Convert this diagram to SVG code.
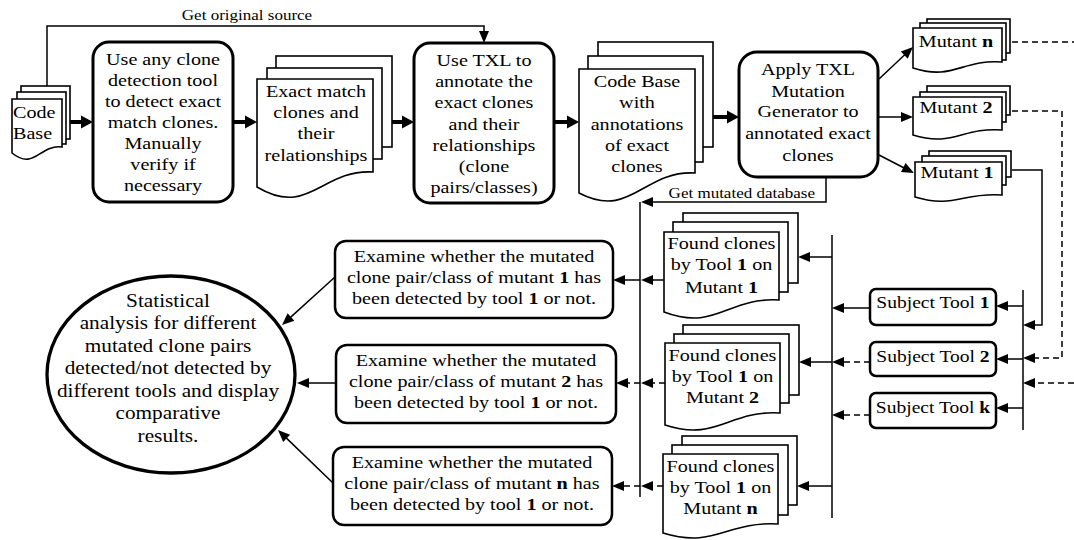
<svg xmlns="http://www.w3.org/2000/svg" width="1074" height="540" viewBox="0 0 1074 540">
<style>
.t{font-family:"Liberation Serif","Times New Roman",serif;font-size:17.5px;fill:#000;text-anchor:middle}
.s{font-size:14.8px}
.e{font-size:18.5px}
.st{font-size:17px}
.l{text-anchor:start}
.r{text-anchor:end}
.b{font-weight:bold}
.box{fill:#fff;stroke:#000;stroke-width:3}
.box2{fill:#fff;stroke:#000;stroke-width:2.5}
.doc{fill:#fff;stroke:#000;stroke-width:1.6}
.ln{fill:none;stroke:#000;stroke-width:1.5}
.dash{stroke-dasharray:6 4}
.thk{fill:none;stroke:#000;stroke-width:4}
</style>
<defs>
<marker id="ah" markerUnits="userSpaceOnUse" markerWidth="12" markerHeight="10" refX="1" refY="5" orient="auto" overflow="visible"><path d="M0,0 L12,5 L0,10 Z" fill="#000"/></marker>
<marker id="ahb" markerUnits="userSpaceOnUse" markerWidth="12" markerHeight="13" refX="0" refY="6.5" orient="auto" overflow="visible"><path d="M0,0 L12,6.5 L0,13 Z" fill="#000"/></marker>
</defs>
<rect width="1074" height="540" fill="#fff"/>

<g id="connectors">
<path class="thk" d="M70,122 H81" marker-end="url(#ahb)"/>
<path class="thk" d="M233,122 H245" marker-end="url(#ahb)"/>
<path class="thk" d="M392,122 H402" marker-end="url(#ahb)"/>
<path class="thk" d="M554,122 H567" marker-end="url(#ahb)"/>
<path class="thk" d="M713,117 H727" marker-end="url(#ahb)"/>
<path class="ln" d="M47,86 V26 H484 V32" marker-end="url(#ah)"/>
<path class="ln" d="M879,79 L905,54.5" marker-end="url(#ah)"/>
<path class="ln" d="M879,117 H902" marker-end="url(#ah)"/>
<path class="ln" d="M879,155 L904.2,168" marker-end="url(#ah)"/>
<path class="ln dash" d="M1012,42 H1074"/>
<path class="ln dash" d="M1012,111 H1062 V358 H1034" marker-end="url(#ah)"/>
<path class="ln" d="M1012,170 H1042 V325 H1034" marker-end="url(#ah)"/>
<path class="ln dash" d="M1074,383 H1034" marker-end="url(#ah)"/>
<path class="ln" d="M1023,290 V430"/>
<path class="ln" d="M1023,306 H1007" marker-end="url(#ah)"/>
<path class="ln" d="M1023,359 H1007" marker-end="url(#ah)"/>
<path class="ln" d="M1023,408 H1007" marker-end="url(#ah)"/>
<path class="ln" d="M870,308 H843" marker-end="url(#ah)"/>
<path class="ln dash" d="M870,362 H843" marker-end="url(#ah)"/>
<path class="ln dash" d="M870,415 H843" marker-end="url(#ah)"/>
<path class="ln" d="M832,235 V518"/>
<path class="ln" d="M832,257 H809" marker-end="url(#ah)"/>
<path class="ln" d="M832,362 H810" marker-end="url(#ah)"/>
<path class="ln" d="M832,486 H808" marker-end="url(#ah)"/>
<path class="ln" d="M826,177 V202 H652" marker-end="url(#ah)"/>
<path class="ln" d="M640,202 V497"/>
<path class="ln" d="M664,280 H652" marker-end="url(#ah)"/>
<path class="ln dash" d="M665,383 H652" marker-end="url(#ah)"/>
<path class="ln dash" d="M663,486 H652" marker-end="url(#ah)"/>
<path class="ln" d="M640,280 H624" marker-end="url(#ah)"/>
<path class="ln dash" d="M640,383 H627" marker-end="url(#ah)"/>
<path class="ln dash" d="M640,486 H623" marker-end="url(#ah)"/>
<path class="ln" d="M335,277 L290.2,317.6" marker-end="url(#ah)"/>
<path class="ln" d="M336,383 H308" marker-end="url(#ah)"/>
<path class="ln" d="M333,483 L285.9,437.6" marker-end="url(#ah)"/>
<text class="t s" transform="translate(247 0) scale(1.15 1)"><tspan x="0" y="20">Get original source</tspan></text>
<text class="t s r" transform="translate(815 0) scale(1.15 1)"><tspan x="0" y="198">Get mutated database</tspan></text>
</g>

<g id="code-base">
<rect class="doc" x="21" y="86" width="49" height="53"/>
<rect class="doc" x="17" y="92" width="49" height="52"/>
<path class="doc" d="M12,99 H62 V147 C39.5,144 34.5,171 12,153 Z"/>
<text class="t l" transform="translate(13 0) scale(1.15 1)"><tspan x="0" y="118">Code</tspan><tspan x="0" y="139">Base</tspan></text>
</g>

<g id="detect">
<rect class="box" x="93" y="42" width="140" height="160" rx="16"/>
<text class="t" transform="translate(163 0) scale(1.15 1)"><tspan x="0" y="65">Use any clone</tspan><tspan x="0" y="86">detection tool</tspan><tspan x="0" y="107">to detect exact</tspan><tspan x="0" y="128">match clones.</tspan><tspan x="0" y="149">Manually</tspan><tspan x="0" y="170">verify if</tspan><tspan x="0" y="191">necessary</tspan></text>
</g>

<g id="exact-clones">
<rect class="doc" x="276" y="56" width="116" height="91"/>
<rect class="doc" x="267" y="68" width="115" height="91"/>
<path class="doc" d="M257,79 H373 V172 C321,169 309,218 257,187 Z"/>
<text class="t" transform="translate(316 0) scale(1.15 1)"><tspan x="0" y="97">Exact match</tspan><tspan x="0" y="118">clones and</tspan><tspan x="0" y="139">their</tspan><tspan x="0" y="161">relationships</tspan></text>
</g>

<g id="annotate">
<rect class="box" x="414" y="43" width="140" height="160" rx="16"/>
<text class="t" transform="translate(484 0) scale(1.15 1)"><tspan x="0" y="66">Use TXL to</tspan><tspan x="0" y="87">annotate the</tspan><tspan x="0" y="108">exact clones</tspan><tspan x="0" y="130">and their</tspan><tspan x="0" y="151">relationships</tspan><tspan x="0" y="172">(clone</tspan><tspan x="0" y="193">pairs/classes)</tspan></text>
</g>

<g id="annotated-base">
<rect class="doc" x="598" y="42" width="115" height="105"/>
<rect class="doc" x="588" y="56" width="115" height="106"/>
<path class="doc" d="M579,69 H695 V173 C643,170 631,220 579,193 Z"/>
<text class="t" transform="translate(637 0) scale(1.15 1)"><tspan x="0" y="87">Code Base</tspan><tspan x="0" y="108">with</tspan><tspan x="0" y="130">annotations</tspan><tspan x="0" y="151">of exact</tspan><tspan x="0" y="172">clones</tspan></text>
</g>

<g id="mutation-generator">
<rect class="box" x="739" y="52" width="139" height="125" rx="18"/>
<text class="t" transform="translate(808 0) scale(1.15 1)"><tspan x="0" y="75">Apply TXL</tspan><tspan x="0" y="97">Mutation</tspan><tspan x="0" y="117">Generator to</tspan><tspan x="0" y="139">annotated exact</tspan><tspan x="0" y="161">clones</tspan></text>
</g>

<g id="mutant-n">
<rect class="doc" x="927" y="19" width="83" height="34"/>
<rect class="doc" x="920" y="23" width="86" height="37"/>
<path class="doc" d="M913,28 H1002 V62 C962,59 953,81 913,68 Z"/>
<text class="t" transform="translate(956 0) scale(1.15 1)"><tspan x="0" y="47">Mutant <tspan class="b">n</tspan></tspan></text>
</g>

<g id="mutant-2">
<rect class="doc" x="927" y="86" width="83" height="29"/>
<rect class="doc" x="920" y="92" width="86" height="30"/>
<path class="doc" d="M913,97 H1002 V130 C962,127 953,147.5 913,135 Z"/>
<text class="t" transform="translate(956 0) scale(1.15 1)"><tspan x="0" y="113">Mutant <tspan class="b">2</tspan></tspan></text>
</g>

<g id="mutant-1">
<rect class="doc" x="929" y="151" width="82" height="26"/>
<rect class="doc" x="922" y="156" width="84" height="29"/>
<path class="doc" d="M915,162 H1002 V195 C963,192 954,208.7 915,197 Z"/>
<text class="t" transform="translate(957 0) scale(1.15 1)"><tspan x="0" y="178">Mutant <tspan class="b">1</tspan></tspan></text>
</g>

<g id="subject-tool-1">
<rect class="box2" x="870" y="289" width="126" height="36" rx="6"/>
<text class="t st" transform="translate(933 0) scale(1.15 1)"><tspan x="0" y="308">Subject Tool <tspan class="b">1</tspan></tspan></text>
</g>
<g id="subject-tool-2">
<rect class="box2" x="870" y="342" width="126" height="34" rx="6"/>
<text class="t st" transform="translate(933 0) scale(1.15 1)"><tspan x="0" y="362">Subject Tool <tspan class="b">2</tspan></tspan></text>
</g>
<g id="subject-tool-k">
<rect class="box2" x="870" y="393" width="126" height="35" rx="6"/>
<text class="t st" transform="translate(933 0) scale(1.15 1)"><tspan x="0" y="413">Subject Tool <tspan class="b">k</tspan></tspan></text>
</g>

<g id="found-1">
<rect class="doc" x="683" y="213" width="115" height="70"/>
<rect class="doc" x="673" y="222" width="115" height="70"/>
<path class="doc" d="M664,232 H779 V300 C727,297 716,331.6 664,312 Z"/>
<text class="t" transform="translate(721.5 0) scale(1.15 1)"><tspan x="0" y="249">Found clones</tspan><tspan x="0" y="270">by Tool <tspan class="b">1</tspan> on</tspan><tspan x="0" y="293">Mutant <tspan class="b">1</tspan></tspan></text>
</g>
<g id="found-2">
<rect class="doc" x="683" y="325" width="116" height="70"/>
<rect class="doc" x="674" y="334" width="115" height="69"/>
<path class="doc" d="M665,343 H780 V413 C728,410 717,442 665,425 Z"/>
<text class="t" transform="translate(722.5 0) scale(1.15 1)"><tspan x="0" y="361">Found clones</tspan><tspan x="0" y="382">by Tool <tspan class="b">1</tspan> on</tspan><tspan x="0" y="403">Mutant <tspan class="b">2</tspan></tspan></text>
</g>
<g id="found-n">
<rect class="doc" x="682" y="436" width="115" height="69"/>
<rect class="doc" x="672" y="445" width="116" height="70"/>
<path class="doc" d="M663,454 H778 V524 C726,521 715,549 663,533 Z"/>
<text class="t" transform="translate(720.5 0) scale(1.15 1)"><tspan x="0" y="472">Found clones</tspan><tspan x="0" y="493">by Tool <tspan class="b">1</tspan> on</tspan><tspan x="0" y="514">Mutant <tspan class="b">n</tspan></tspan></text>
</g>

<g id="examine-1">
<rect class="box2" x="335" y="241" width="278" height="77" rx="11"/>
<text class="t" transform="translate(474 0) scale(1.15 1)"><tspan x="0" y="262">Examine whether the mutated</tspan><tspan x="0" y="283">clone pair/class of mutant <tspan class="b">1</tspan> has</tspan><tspan x="0" y="304">been detected by tool <tspan class="b">1</tspan> or not.</tspan></text>
</g>
<g id="examine-2">
<rect class="box2" x="336" y="345" width="280" height="78" rx="11"/>
<text class="t" transform="translate(476 0) scale(1.15 1)"><tspan x="0" y="366">Examine whether the mutated</tspan><tspan x="0" y="387">clone pair/class of mutant <tspan class="b">2</tspan> has</tspan><tspan x="0" y="408">been detected by tool <tspan class="b">1</tspan> or not.</tspan></text>
</g>
<g id="examine-n">
<rect class="box2" x="333" y="447" width="279" height="78" rx="11"/>
<text class="t" transform="translate(472 0) scale(1.15 1)"><tspan x="0" y="468">Examine whether the mutated</tspan><tspan x="0" y="489">clone pair/class of mutant <tspan class="b">n</tspan> has</tspan><tspan x="0" y="510">been detected by tool <tspan class="b">1</tspan> or not.</tspan></text>
</g>

<g id="statistical-analysis">
<ellipse cx="171" cy="374.5" rx="124" ry="98.5" fill="#fff" stroke="#000" stroke-width="3.3"/>
<text class="t e" transform="translate(168 0) scale(1.15 1)"><tspan x="0" y="307">Statistical</tspan><tspan x="0" y="329.5">analysis for different</tspan><tspan x="0" y="352">mutated clone pairs</tspan><tspan x="0" y="374.5">detected/not detected by</tspan><tspan x="0" y="397">different tools and display</tspan><tspan x="0" y="419.5">comparative</tspan><tspan x="0" y="442">results.</tspan></text>
</g>
</svg>
